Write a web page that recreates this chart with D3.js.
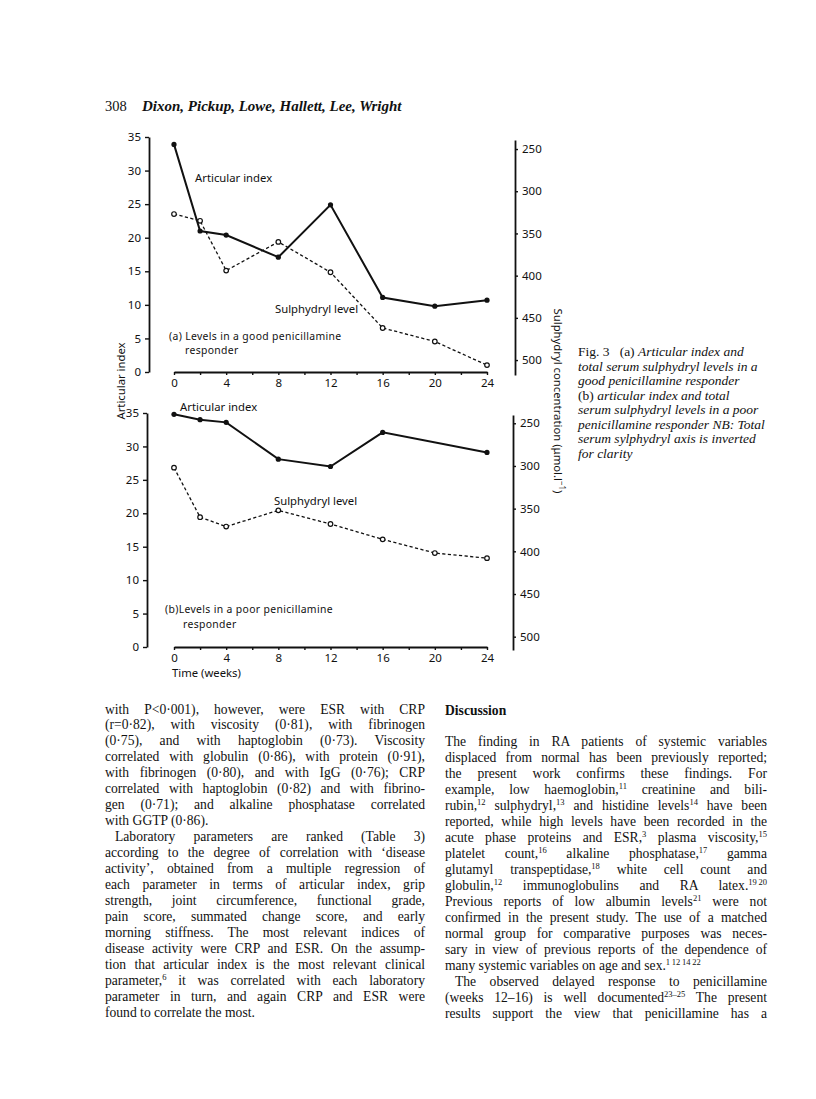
<!DOCTYPE html>
<html><head><meta charset="utf-8">
<script src="https://cdn.jsdelivr.net/npm/d3@7"></script>
<style>body{margin:0;background:#fff}</style>
</head><body>
<svg id="c" width="816" height="1099" xmlns="http://www.w3.org/2000/svg"></svg>
<script>
// ---------- data ----------
const weeks = [0, 2, 4, 8, 12, 16, 20, 24];
const xTicks = [0, 2, 4, 6, 8, 10, 12, 14, 16, 18, 20, 22, 24];
const xLabelTicks = [0, 4, 8, 12, 16, 20, 24];
const artTicks = [0, 5, 10, 15, 20, 25, 30, 35];
const shTicks = [250, 300, 350, 400, 450, 500];
// (a) good responder
const artA = [33.9, 21.0, 20.4, 17.1, 24.9, 11.1, 9.8, 10.7];
const shA = [327, 335, 394, 360, 396, 462, 478, 506];
// (b) poor responder
const weeksArtB = [0, 2, 4, 8, 12, 16, 24];
const artB = [34.8, 34.0, 33.6, 28.1, 27.0, 32.1, 29.1];
const shB = [302, 360, 371, 352, 368, 386, 402, 408];

const headerNum = "308";
const headerAuthors = "Dixon, Pickup, Lowe, Hallett, Lee, Wright";

const captionLines = [
  [["Fig. 3   (a) ", "n"], ["Articular index and", "i"]],
  [["total serum sulphydryl levels in a", "i"]],
  [["good penicillamine responder", "i"]],
  [["(b) ", "n"], ["articular index and total", "i"]],
  [["serum sulphydryl levels in a poor", "i"]],
  [["penicillamine responder NB: Total", "i"]],
  [["serum sylphydryl axis is inverted", "i"]],
  [["for clarity", "i"]]
];

// [text, justify, indent]   (^{..} = superscript)
const leftCol = [
  ["with P<0·001), however, were ESR with CRP", 1, 0],
  ["(r=0·82), with viscosity (0·81), with fibrinogen", 1, 0],
  ["(0·75), and with haptoglobin (0·73). Viscosity", 1, 0],
  ["correlated with globulin (0·86), with protein (0·91),", 1, 0],
  ["with fibrinogen (0·80), and with IgG (0·76); CRP", 1, 0],
  ["correlated with haptoglobin (0·82) and with fibrino-", 1, 0],
  ["gen (0·71); and alkaline phosphatase correlated", 1, 0],
  ["with GGTP (0·86).", 0, 0],
  ["Laboratory parameters are ranked (Table 3)", 1, 1],
  ["according to the degree of correlation with ‘disease", 1, 0],
  ["activity’, obtained from a multiple regression of", 1, 0],
  ["each parameter in terms of articular index, grip", 1, 0],
  ["strength, joint circumference, functional grade,", 1, 0],
  ["pain score, summated change score, and early", 1, 0],
  ["morning stiffness. The most relevant indices of", 1, 0],
  ["disease activity were CRP and ESR. On the assump-", 1, 0],
  ["tion that articular index is the most relevant clinical", 1, 0],
  ["parameter,^{6} it was correlated with each laboratory", 1, 0],
  ["parameter in turn, and again CRP and ESR were", 1, 0],
  ["found to correlate the most.", 0, 0]
];
const rightHeading = "Discussion";
const rightCol = [
  ["The finding in RA patients of systemic variables", 1, 0],
  ["displaced from normal has been previously reported;", 1, 0],
  ["the present work confirms these findings. For", 1, 0],
  ["example, low haemoglobin,^{11} creatinine and bili-", 1, 0],
  ["rubin,^{12} sulphydryl,^{13} and histidine levels^{14} have been", 1, 0],
  ["reported, while high levels have been recorded in the", 1, 0],
  ["acute phase proteins and ESR,^{3} plasma viscosity,^{15}", 1, 0],
  ["platelet count,^{16} alkaline phosphatase,^{17} gamma", 1, 0],
  ["glutamyl transpeptidase,^{18} white cell count and", 1, 0],
  ["globulin,^{12} immunoglobulins and RA latex.^{19\u200920}", 1, 0],
  ["Previous reports of low albumin levels^{21} were not", 1, 0],
  ["confirmed in the present study. The use of a matched", 1, 0],
  ["normal group for comparative purposes was neces-", 1, 0],
  ["sary in view of previous reports of the dependence of", 1, 0],
  ["many systemic variables on age and sex.^{1\u200912\u200914\u200922}", 0, 0],
  ["The observed delayed response to penicillamine", 1, 1],
  ["(weeks 12–16) is well documented^{23–25} The present", 1, 0],
  ["results support the view that penicillamine has a", 1, 0]
];

// ---------- drawing ----------
const svg = d3.select("#c");
svg.append("rect").attr("width", 816).attr("height", 1099).attr("fill", "#fff");
const sans = "'Noto Sans', 'DejaVu Sans', sans-serif";
const serif = "'Liberation Serif', 'Times New Roman', serif";
const ink = "#111";

// header
svg.append("text").attr("x", 105).attr("y", 111).attr("font-family", serif)
  .attr("font-size", 14.5).attr("fill", ink).text(headerNum);
svg.append("text").attr("x", 142).attr("y", 111).attr("font-family", serif)
  .attr("font-size", 15).attr("font-style", "italic").attr("font-weight", "bold")
  .attr("fill", ink).text(headerAuthors);

const x = d3.scaleLinear().domain([0, 24]).range([174, 487]);

function panel(cfg) {
  const g = svg.append("g");
  const y = d3.scaleLinear().domain([0, 35]).range([cfg.y0, cfg.y35]);
  const s = d3.scaleLinear().domain(cfg.sDom).range(cfg.sRange);

  const la = g.append("g").attr("transform", `translate(${cfg.leftX},0)`)
    .call(d3.axisLeft(y).tickValues(artTicks).tickSizeOuter(0).tickSizeInner(4).tickPadding(4));
  const xa = g.append("g").attr("transform", `translate(0,${cfg.y0})`)
    .call(d3.axisBottom(x).tickValues(xTicks).tickSizeOuter(0).tickSizeInner(3).tickPadding(4)
      .tickFormat(d => xLabelTicks.includes(d) ? d : ""));
  const ra = g.append("g").attr("transform", `translate(${cfg.rightX},0)`)
    .call(d3.axisRight(s).tickValues(shTicks).tickSizeOuter(0).tickSizeInner(3).tickPadding(4));
  [la, xa, ra].forEach(a => {
    a.selectAll("path.domain").attr("stroke", ink).attr("stroke-width", 1.8);
    a.selectAll(".tick line").attr("stroke", ink).attr("stroke-width", 1.4);
    a.selectAll(".tick text").attr("font-family", sans).attr("font-size", 11.5).attr("fill", ink);
  });

  const shPts = weeks.map((w, i) => ({ w, v: cfg.sh[i] }));
  g.append("path").datum(shPts)
    .attr("d", d3.line().x(d => x(d.w)).y(d => s(d.v)))
    .attr("fill", "none").attr("stroke", ink).attr("stroke-width", 1.3)
    .attr("stroke-dasharray", "3.2,2.4");
  const artPts = cfg.artW.map((w, i) => ({ w, v: cfg.art[i] }));
  g.append("path").datum(artPts)
    .attr("d", d3.line().x(d => x(d.w)).y(d => y(d.v)))
    .attr("fill", "none").attr("stroke", ink).attr("stroke-width", 2);
  g.selectAll("circle.sh").data(shPts).join("circle").attr("class", "sh")
    .attr("cx", d => x(d.w)).attr("cy", d => s(d.v)).attr("r", 2.3)
    .attr("fill", "#fff").attr("stroke", ink).attr("stroke-width", 1.2);
  g.selectAll("circle.art").data(artPts).join("circle").attr("class", "art")
    .attr("cx", d => x(d.w)).attr("cy", d => y(d.v)).attr("r", 2.6).attr("fill", ink);

  cfg.labels.forEach(l => {
    g.append("text").attr("x", l[0]).attr("y", l[1]).attr("font-family", sans)
      .attr("font-size", 11.3).attr("fill", ink).text(l[2]);
  });
  // two-line panel note (kept tight, as in the original)
  const n = cfg.note;
  g.append("text").attr("x", n.x1).attr("y", n.y).attr("font-family", sans)
    .attr("font-size", 10.4).attr("letter-spacing", 0.35).attr("fill", ink).text(n.l1);
  g.append("text").attr("x", n.x2).attr("y", n.y + 14.6).attr("font-family", sans)
    .attr("font-size", 10.4).attr("letter-spacing", 0.35).attr("fill", ink).text(n.l2);
}

panel({
  y0: 372, y35: 137, leftX: 149, rightX: 515,
  sDom: [239.3, 517.7], sRange: [140, 375],
  artW: weeks, art: artA, sh: shA,
  labels: [[195, 182, "Articular index"], [275, 313, "Sulphydryl level"]],
  note: { x1: 169, x2: 185, y: 339.5, l1: "(a) Levels in a good penicillamine", l2: "responder" }
});
panel({
  y0: 647, y35: 413, leftX: 147, rightX: 513,
  sDom: [240.3, 515.6], sRange: [415, 650],
  artW: weeksArtB, art: artB, sh: shB,
  labels: [[180, 411, "Articular index"], [274, 505, "Sulphydryl level"]],
  note: { x1: 165, x2: 183, y: 613, l1: "(b)Levels in a poor penicillamine", l2: "responder" }
});

svg.append("text").attr("x", 172).attr("y", 677).attr("font-family", sans)
  .attr("font-size", 11.3).attr("fill", ink).text("Time (weeks)");

// axis titles
svg.append("text").attr("transform", "translate(125,381) rotate(-90)").attr("text-anchor", "middle")
  .attr("font-family", sans).attr("font-size", 11.3).attr("fill", ink).text("Articular index");
const rt = svg.append("text").attr("transform", "translate(554,401) rotate(90)").attr("text-anchor", "middle")
  .attr("font-family", sans).attr("font-size", 11.3).attr("fill", ink);
rt.append("tspan").text("Sulphydryl concentration  (μmol.l");
rt.append("tspan").attr("baseline-shift", "super").attr("font-size", 8).text("−1");
rt.append("tspan").text(")");

// caption
captionLines.forEach((segs, i) => {
  const t = svg.append("text").attr("x", 578).attr("y", 356 + i * 14.5)
    .attr("font-family", serif).attr("font-size", 13.5).attr("fill", ink)
    .attr("xml:space", "preserve");
  segs.forEach(sg => t.append("tspan").attr("font-style", sg[1] === "i" ? "italic" : "normal").text(sg[0]));
});

// body text
function writeLine(xPos, yPos, width, line) {
  const [txt, just, indent] = line;
  const x0 = xPos + (indent ? 10 : 0);
  const w = width - (indent ? 10 : 0);
  const t = svg.append("text").attr("x", x0).attr("y", yPos)
    .attr("font-family", serif).attr("font-size", 13.6).attr("fill", ink);
  const parts = txt.split(/\^\{([^}]*)\}/);
  parts.forEach((p, i) => {
    if (!p) return;
    if (i % 2 === 1) t.append("tspan").attr("baseline-shift", "super").attr("font-size", 8.5).text(p);
    else t.append("tspan").text(p);
  });
  if (just) {
    const n = t.node().getComputedTextLength();
    const spaces = (txt.match(/ /g) || []).length;
    if (spaces > 0) t.attr("word-spacing", (w - n) / spaces);
  }
}
leftCol.forEach((l, i) => writeLine(105, 713.5 + i * 15.95, 320, l));
svg.append("text").attr("x", 445).attr("y", 714.5).attr("font-family", serif)
  .attr("font-size", 13.6).attr("font-weight", "bold").attr("fill", ink).text(rightHeading);
rightCol.forEach((l, i) => writeLine(445, 714.5 + (i + 2) * 15.95, 322, l));
</script>
</body></html>
